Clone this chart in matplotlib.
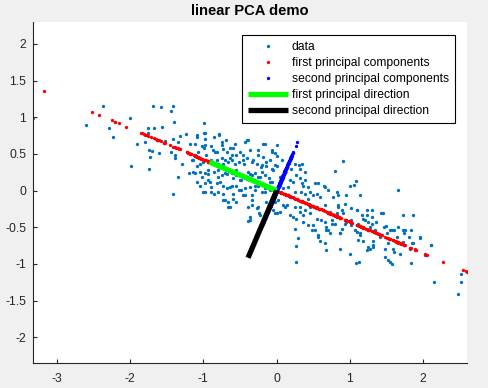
import numpy as np
import matplotlib
matplotlib.use('Agg')
import matplotlib.pyplot as plt

plt.rcParams['font.family'] = ['Liberation Sans', 'DejaVu Sans']
plt.rcParams['axes.unicode_minus'] = False

# sample points (left part, middle, right part)
data_x = [
    -3.33, -2.60, -2.37, -2.29, -2.23, -2.21, -2.00, -1.99, -1.91, -1.80, -1.75, -1.75,
    -1.74, -1.73, -1.74, -1.68, -1.67, -1.70, -1.60, -1.58, -1.57, -1.44, -1.41, -1.40,
    -1.42, -1.44, -1.39, -1.39, -1.32, -1.29, -1.23, -1.35, -1.19, -1.42, -1.34, -1.52,
    # middle upper
    -0.99, -0.98, -1.08, -0.98, -0.78, -0.74, -0.69, -0.59, -0.43, -0.39, -0.16, -0.07,
    -0.02, 0.01, -1.02, -0.99, -0.89, -0.87, -0.84, -0.73, -0.68, -0.64, -0.61, -0.55,
    -0.46, -0.36, -0.25, -0.18, -0.09, -0.02, 0.00, -1.11, -1.07, -1.14, -1.00, -0.93,
    -0.89, -0.82, -0.80, -0.75, -0.71, -0.66, -0.61, -0.57, -0.52, -0.46, -0.41, -0.34,
    -0.27, -0.20, -0.14, -0.07, -1.09, -1.11, -1.05, -0.98, -0.93, -0.86, -0.80, -0.75,
    -0.71, -0.66, -0.61, -0.59, -0.55, -0.50, -0.46, -0.39, -0.34, -0.30, -0.25, -0.20,
    -0.16, -0.11, -0.07, -1.09, -1.05, -0.98, -0.93, -0.89, -0.82, -0.77, -0.73, -0.68,
    -0.64, -0.55, -0.48, -0.43, -0.36, -0.30, -0.25, -0.20, -0.16, -0.46, -0.59, -0.73,
    -0.86, -0.98, -0.34, -0.09,
    -1.18, -1.16, -1.14, -1.11, -1.09, -1.07, -1.05, -1.02, -1.00, -0.99, -0.98, -0.96,
    -0.93, -0.91, -0.89, -0.86, -0.84, -0.82, -0.80, -0.80, -0.78, -0.75, -0.73, -0.71,
    -0.68, -0.66, -0.64, -0.61, -0.59, -0.57, -0.55, -0.52, -0.50, -0.48, -0.45, -0.43,
    -0.41, -0.39, -0.37, -0.36, -0.34, -0.32, -0.30, -0.27, -0.25, -0.24, -0.23, -0.21,
    -0.18, -0.16, -0.14, -0.11, -0.09, -0.07, -0.05, -0.02, 0.00, 0.02, 0.05, 0.07,
    0.09, 0.11,
    # middle lower
    -0.73, -0.66, -0.64, -0.55, -0.34, -0.36, -0.39, -0.23, -0.25, -0.09, -0.05, 0.00,
    0.04, 0.09, -0.02, -0.14,
    # right of centre
    0.25, 0.30, 0.32, 0.27, 0.39, 0.18, 0.23, 0.32, 0.34, 0.36, 0.39, 0.43,
    0.33, 0.39, 0.45, 0.50, 0.55, 0.57, 0.64, 0.66, 0.70, 0.80, 0.91, 1.05,
    1.08, 0.82, 0.84, 0.95, 1.14, 0.25, 0.16, 0.20, 0.43, 0.59, 0.77, 1.00,
    0.52, 0.18, 0.34, 1.66,
    0.14, 0.18, 0.25, 0.27, 0.25, 0.29, 0.26, 0.27, 0.32, 0.36, 0.39, 0.45,
    0.43, 0.49, 0.52, 0.55, 0.57, 0.59, 0.66, 0.68, 0.70, 0.73, 0.66, 0.68,
    0.75, 0.80, 0.82, 0.86, 0.89, 0.84, 0.89, 0.93, 0.95, 1.02, 1.09, 1.02,
    1.09, 1.14, 1.11, 1.18, 1.23, 1.25, 1.30, 1.30, 1.32, 1.23, 1.27, 1.32,
    0.86, 1.00, 1.08, 1.12,
    0.23, 0.32, 0.36, 0.45, 0.48, 0.55, 0.57, 0.61, 0.66, 0.68, 0.73, 0.75,
    0.82, 0.84, 0.86, 0.91, 0.93, 1.02, 1.07, 1.09, 1.11, 1.14, 1.16, 1.18,
    1.21, 1.23, 1.25, 1.27, 1.30, 1.32, 1.34, 1.36,
    # far right
    1.45, 1.73, 1.86, 1.49, 1.55, 1.60, 1.66, 1.73, 1.74, 1.83, 1.95, 1.85,
    2.10, 1.48, 1.52, 1.55, 1.57, 1.60, 1.83, 2.15, 2.52, 2.52, 2.47,
    1.41, 1.43, 1.46, 1.48, 1.50, 1.52, 1.57, 1.59, 1.64, 1.68, 1.73, 1.75,
    1.80, 1.82, 1.86, 1.96, 2.02, 2.11,
]
data_y = [
    0.99, 0.90, 1.15, 0.86, 0.73, 0.94, 0.99, 0.34, 0.63, 0.67, 0.86, 0.79,
    0.56, 0.46, 0.29, 1.16, 0.85, 0.54, 0.51, 1.14, 0.87, 1.08, 1.16, 0.93,
    0.70, 0.53, 0.48, 0.45, 0.74, 0.36, 0.77, 0.18, 0.24, -0.05, 0.67, 0.68,
    # middle upper
    0.92, 0.78, 0.73, 0.71, 0.77, 0.67, 0.69, 0.58, 0.67, 0.69, 0.63, 0.56,
    0.51, 0.47, 0.61, 0.58, 0.61, 0.55, 0.53, 0.57, 0.53, 0.58, 0.48, 0.48,
    0.49, 0.55, 0.49, 0.46, 0.42, 0.35, 0.33, 0.48, 0.46, 0.42, 0.39, 0.40,
    0.42, 0.42, 0.37, 0.44, 0.42, 0.39, 0.42, 0.37, 0.39, 0.42, 0.44, 0.39,
    0.37, 0.35, 0.33, 0.30, 0.33, 0.24, 0.26, 0.24, 0.28, 0.26, 0.28, 0.21,
    0.24, 0.28, 0.24, 0.17, 0.21, 0.14, 0.19, 0.26, 0.21, 0.24, 0.19, 0.26,
    0.21, 0.17, 0.12, 0.12, 0.07, 0.10, 0.14, 0.05, 0.10, 0.12, 0.07, 0.03,
    0.05, 0.07, 0.01, 0.03, 0.05, 0.01, 0.07, -0.02, 0.03, -0.06, -0.04, -0.04,
    -0.04, -0.02, -0.06, 0.01,
    0.64, 0.42, 0.26, 0.64, 0.76, 0.53, 0.37, 0.19, -0.02, 0.78, 0.62, 0.48,
    0.23, 0.12, -0.02, 0.73, 0.37, 0.53, 0.19, -0.02, 0.76, 0.62, 0.37, -0.13,
    0.23, -0.22, 0.44, 0.07, -0.11, 0.64, 0.28, 0.01, 0.53, 0.14, 0.37, -0.06,
    0.69, -0.22, -0.40, 0.23, -0.13, 0.42, 0.07, -0.24, 0.55, -0.31, 0.19, 0.32,
    0.64, -0.02, 0.39, -0.20, 0.12, 0.53, 0.28, -0.31, 0.62, -0.13, 0.19, 0.42,
    0.03, -0.22,
    # middle lower
    -0.13, -0.15, -0.22, -0.15, -0.20, -0.36, -0.41, -0.33, -0.22, -0.18, -0.27, -0.31,
    -0.29, -0.20, -0.15, -0.15,
    # right of centre
    0.37, 0.35, 0.30, 0.21, 0.26, 0.14, 0.12, 0.17, 0.10, 0.07, 0.14, 0.05,
    -0.02, -0.04, -0.02, -0.06, -0.04, 0.11, 0.07, 0.05, 0.01, 0.27, 0.40, 0.08,
    0.13, -0.02, -0.06, -0.06, -0.06, -0.02, 0.05, 0.30, -0.11, -0.08, -0.08, 0.07,
    0.10, -0.08, 0.37, 0.01,
    -0.20, -0.33, -0.22, -0.38, -0.52, -0.64, -0.76, -0.97, -0.29, -0.33, -0.27, -0.22,
    -0.47, -0.47, -0.54, -0.38, -0.61, -0.68, -0.43, -0.49, -0.54, -0.58, -0.71, -0.81,
    -0.40, -0.45, -0.31, -0.58, -0.52, -0.22, -0.27, -0.18, -0.43, -0.24, -0.26, -0.47,
    -0.56, -0.61, -0.67, -0.38, -0.33, -0.43, -0.27, -0.45, -0.68, -0.81, -0.79, -0.77,
    -0.79, -0.86, -0.99, -0.97,
    -0.36, -0.22, -0.43, -0.31, -0.54, -0.22, -0.63, -0.40, -0.20, -0.54, -0.29, -0.45,
    -0.36, -0.20, -0.58, -0.31, -0.45, -0.40, -0.54, -0.27, -0.45, -0.58, -0.33, -0.68,
    -0.40, -0.27, -0.77, -0.49, -0.36, -0.74, -0.54, -0.43,
    # far right
    -0.30, -0.33, -0.33, -0.48, -0.53, -0.54, -0.49, -0.53, -0.58, -0.53, -0.64, -0.71,
    -0.74, -0.91, -0.94, -0.97, -1.00, -0.83, -0.99, -1.24, -1.14, -1.24, -1.41,
    -0.63, -0.31, -0.49, -0.79, -0.58, -0.72, -0.54, -0.79, -0.63, -0.86, -0.70, -0.54,
    -0.63, -0.79, -0.72, -0.63, -0.88, -0.74,
]

# principal directions as read from the green / black segments
pc1 = [-0.915, 0.39]
pc2 = [-0.39, -0.915]

X = np.column_stack([data_x, data_y])
u1 = np.array(pc1) / np.linalg.norm(pc1)
u2 = np.array(pc2) / np.linalg.norm(pc2)
proj1 = np.outer(X @ u1, u1)
proj2 = np.outer(X @ u2, u2)

fig = plt.figure(figsize=(4.89, 3.88), dpi=100, facecolor='#f0f0f0')
ax = fig.add_axes([0.068, 0.0644, 0.886, 0.879])
ax.set_facecolor('white')

ms = 2.4
ax.plot(X[:, 0], X[:, 1], 'o', color='#0072BD', ms=ms, mew=0, label='data')
ax.plot(proj1[:, 0], proj1[:, 1], 'o', color='red', ms=ms, mew=0,
        label='first principal components')
ax.plot(proj2[:, 0], proj2[:, 1], 'o', color='blue', ms=ms, mew=0,
        label='second principal components')
ax.plot([0, pc1[0]], [0, pc1[1]], color='#00ff00', lw=3.8,
        solid_capstyle='butt', label='first principal direction')
ax.plot([0, pc2[0]], [0, pc2[1]], color='black', lw=3.8,
        solid_capstyle='butt', label='second principal direction')

ax.set_xlim(-3.32, 2.59)
ax.set_ylim(-2.35, 2.30)
ax.set_xticks([-3, -2, -1, 0, 1, 2])
ax.set_yticks([-2, -1.5, -1, -0.5, 0, 0.5, 1, 1.5, 2])
ax.set_yticklabels(['-2', '-1.5', '-1', '-0.5', '0', '0.5', '1', '1.5', '2'])

for s in ['top', 'right']:
    ax.spines[s].set_visible(False)
for s in ['left', 'bottom']:
    ax.spines[s].set_color('#262626')
    ax.spines[s].set_linewidth(0.8)
ax.tick_params(direction='in', length=3, width=0.8, colors='#262626',
               labelsize=8.7)
ax.tick_params(axis='x', pad=7)
ax.tick_params(axis='y', pad=5)

ax.set_title('linear PCA demo', fontsize=10.6, fontweight='bold', pad=5)

leg = ax.legend(loc='upper right', bbox_to_anchor=(0.973, 0.962),
                borderaxespad=0, fontsize=8.7, fancybox=False,
                edgecolor='black', framealpha=1, handlelength=3.3,
                handletextpad=0.33, labelspacing=0.33, borderpad=0.5)
leg.get_frame().set_linewidth(0.8)

fig.savefig('out.png', dpi=100, facecolor=fig.get_facecolor())
